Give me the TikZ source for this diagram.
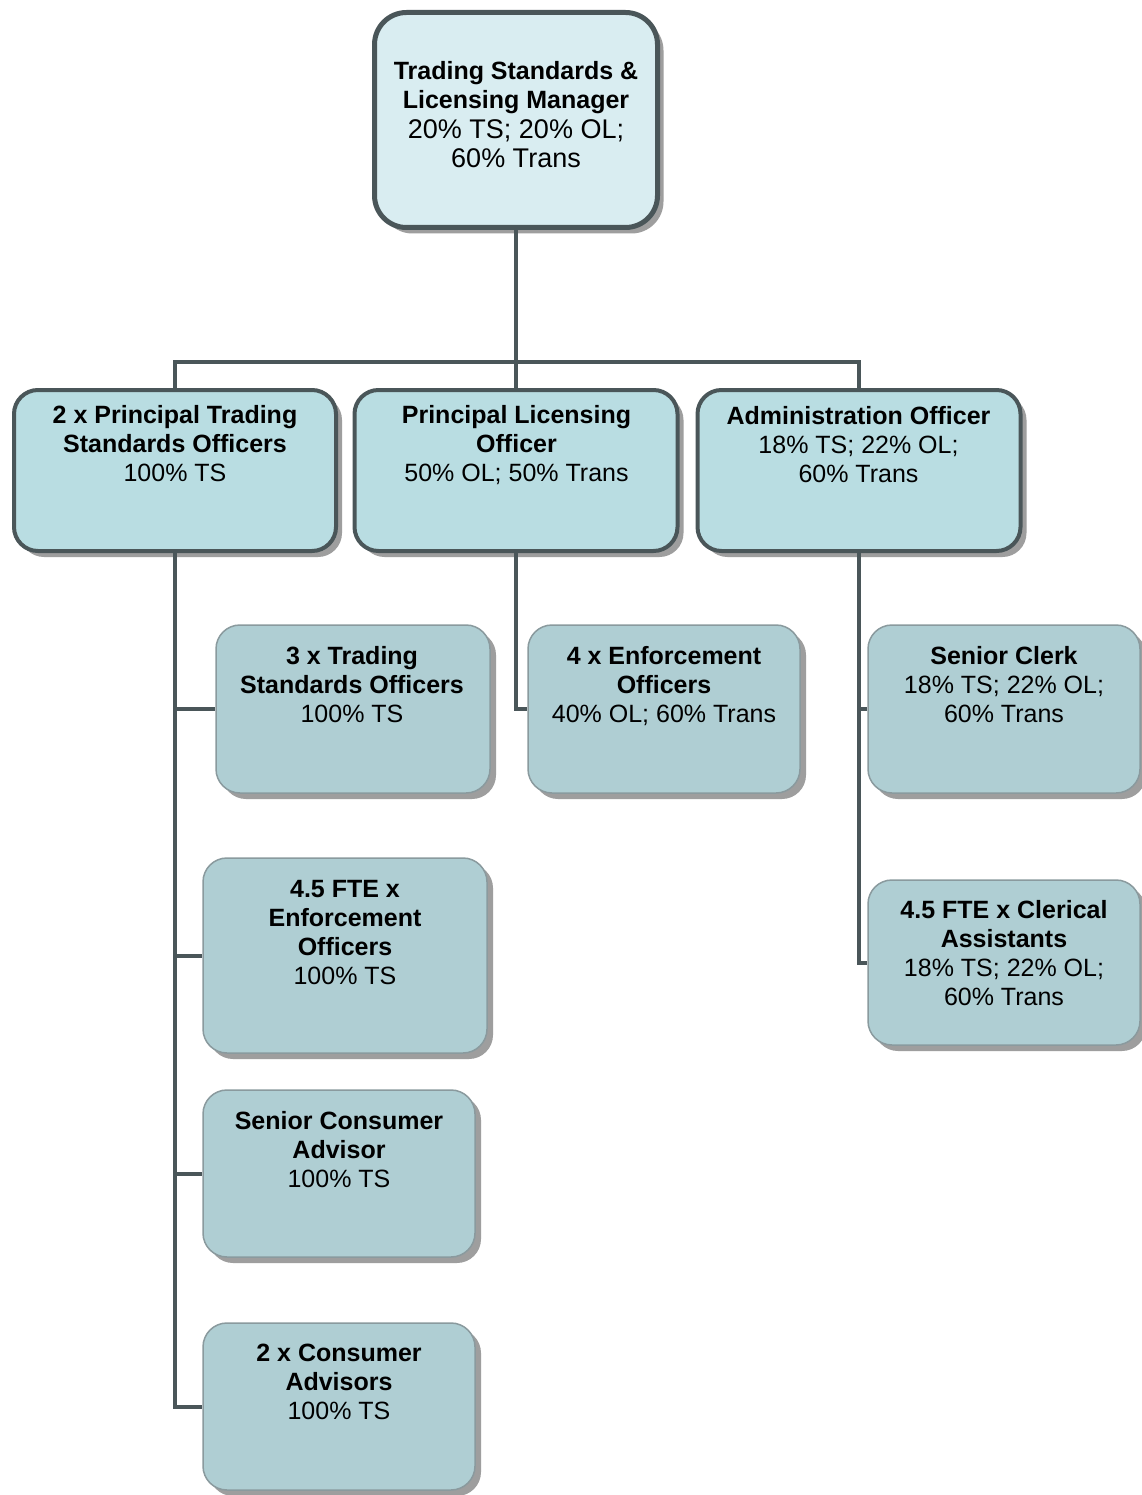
\documentclass[tikz,border=0pt]{standalone}
\usepackage{fontspec}
\setmainfont{Liberation Sans}
\usetikzlibrary{shadows}
\definecolor{topfill}{HTML}{D9EDF1}
\definecolor{midfill}{HTML}{B9DDE2}
\definecolor{lowfill}{HTML}{AFCED3}
\definecolor{darkline}{HTML}{4A5659}
\definecolor{lowline}{HTML}{8A9A9E}
\tikzset{
  shadowed/.style={drop shadow={shadow xshift=6pt,shadow yshift=-6pt,fill=black!38,opacity=1}},
  topbox/.style={draw=darkline,line width=5pt,fill=topfill,rounded corners=32pt,inner sep=0pt,shadowed},
  midbox/.style={draw=darkline,line width=4pt,fill=midfill,rounded corners=24pt,inner sep=0pt,shadowed},
  lowbox/.style={draw=lowline,line width=1.5pt,fill=lowfill,rounded corners=24pt,inner sep=0pt,shadowed},
  toptext/.style={anchor=north,align=center,inner sep=0pt,font=\fontsize{27}{29.5}\selectfont},
  boxtext/.style={anchor=north,align=center,inner sep=0pt,font=\fontsize{25}{29}\selectfont},
  conn/.style={draw=darkline,line width=4pt}
}
\newcommand{\tbold}[1]{{\fontsize{25}{29}\selectfont\bfseries #1}}
\begin{document}
\begin{tikzpicture}[x=1pt,y=-1pt]
\useasboundingbox (0,0) rectangle (1141,1495);
\fill[white] (0,0) rectangle (1141,1495);
% boxes
\node[topbox,minimum width=283pt,minimum height=215pt] (top) at (516,120) {};
\node[midbox,minimum width=322pt,minimum height=161pt] (p1) at (175,470.5) {};
\node[midbox,minimum width=323pt,minimum height=161pt] (p2) at (516,470.5) {};
\node[midbox,minimum width=323pt,minimum height=161pt] (p3) at (859,470.5) {};
\node[lowbox,minimum width=274pt,minimum height=168pt] (c1) at (353,709) {};
\node[lowbox,minimum width=284pt,minimum height=195pt] (c2) at (345,955.5) {};
\node[lowbox,minimum width=272pt,minimum height=167pt] (c3) at (339,1173.5) {};
\node[lowbox,minimum width=272pt,minimum height=167pt] (c4) at (339,1406.5) {};
\node[lowbox,minimum width=272pt,minimum height=168pt] (e1) at (664,709) {};
\node[lowbox,minimum width=272pt,minimum height=168pt] (r1) at (1004,709) {};
\node[lowbox,minimum width=272pt,minimum height=165pt] (r2) at (1004,962.5) {};
% connectors
\coordinate (bus) at (516,362);
\draw[conn] (top.south) -- (bus);
\draw[conn] (p1.north) |- (bus) -| (p3.north);
\draw[conn] (bus) -- (p2.north);
\draw[conn] (p1.south) |- (c4.west);
\draw[conn] (p1.south |- c1.west) -- (c1.west);
\draw[conn] (p1.south |- c2.west) -- (c2.west);
\draw[conn] (p1.south |- c3.west) -- (c3.west);
\draw[conn] (p2.south) |- (e1.west);
\draw[conn] (p3.south) |- (r2.west);
\draw[conn] (p3.south |- r1.west) -- (r1.west);
% texts
\node[toptext] (ttop) at (516,61) {\tbold{Trading Standards \&}\\\tbold{Licensing Manager}\\20\% TS; 20\% OL;\\60\% Trans};
\node[boxtext] (tp1) at (175,405) {\bfseries 2 x Principal Trading\\\bfseries Standards Officers\\100\% TS};
\node[boxtext] (tp2) at (516.5,405) {\bfseries Principal Licensing\\\bfseries Officer\\50\% OL; 50\% Trans};
\node[boxtext] (tp3) at (858.5,406) {\bfseries Administration Officer\\18\% TS; 22\% OL;\\60\% Trans};
\node[boxtext] (tc1) at (352,646) {\bfseries 3 x Trading\\\bfseries Standards Officers\\100\% TS};
\node[boxtext] (tc2) at (345,880) {\bfseries 4.5 FTE x\\\bfseries Enforcement\\\bfseries Officers\\100\% TS};
\node[boxtext] (tc3) at (339,1111) {\bfseries Senior Consumer\\\bfseries Advisor\\100\% TS};
\node[boxtext] (tc4) at (339,1344) {\bfseries 2 x Consumer\\\bfseries Advisors\\100\% TS};
\node[boxtext] (te1) at (664,646) {\bfseries 4 x Enforcement\\\bfseries Officers\\40\% OL; 60\% Trans};
\node[boxtext] (tr1) at (1004,646) {\bfseries Senior Clerk\\18\% TS; 22\% OL;\\60\% Trans};
\node[boxtext] (tr2) at (1004,900) {\bfseries 4.5 FTE x Clerical\\\bfseries Assistants\\18\% TS; 22\% OL;\\60\% Trans};
\end{tikzpicture}
\end{document}
